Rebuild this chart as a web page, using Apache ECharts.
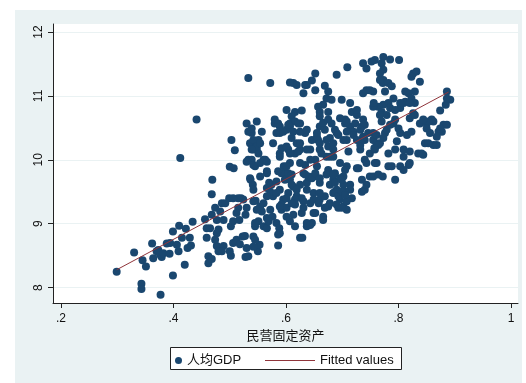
<!DOCTYPE html>
<html>
<head>
<meta charset="utf-8">
<script src="https://cdn.jsdelivr.net/npm/echarts@6/dist/echarts.min.js"></script>
<style>
  html, body { margin: 0; padding: 0; background: #ffffff; }
  #chart { width: 526px; height: 383px; }
</style>
</head>
<body>
<div id="chart"></div>
<script>
// Observations: [private fixed-asset share, log GDP per capita]
const observations = [
  [0.299,8.25],[0.330,8.55],[0.343,8.06],[0.343,7.98],[0.377,7.89],[0.345,8.43],[0.351,8.33],[0.362,8.69],
  [0.364,8.46],[0.370,8.57],[0.376,8.52],[0.379,8.48],[0.373,8.59],[0.382,8.54],[0.393,8.53],[0.394,8.70],
  [0.399,8.88],[0.406,8.67],[0.409,8.57],[0.410,8.97],[0.415,8.78],[0.422,8.92],[0.420,8.36],[0.399,8.19],
  [0.425,8.62],[0.429,8.78],[0.431,8.66],[0.434,9.03],[0.456,9.07],[0.459,8.78],[0.469,9.69],[0.468,9.46],
  [0.474,9.25],[0.468,9.14],[0.465,8.93],[0.462,8.49],[0.462,8.38],[0.468,8.45],[0.477,9.06],[0.477,8.85],
  [0.477,8.65],[0.480,8.57],[0.474,8.75],[0.502,8.50],[0.528,8.48],[0.550,8.57],[0.500,8.57],[0.412,10.03],
  [0.441,10.63],[0.388,8.69],[0.459,8.93],[0.486,9.32],[0.483,9.19],[0.480,8.91],[0.489,8.65],[0.489,9.06],
  [0.492,9.32],[0.499,9.40],[0.502,8.96],[0.506,8.70],[0.503,10.31],[0.509,10.15],[0.500,9.89],[0.507,9.87],
  [0.515,9.25],[0.517,9.06],[0.512,9.17],[0.520,9.40],[0.524,9.38],[0.512,8.75],[0.518,8.68],[0.523,8.80],
  [0.527,8.81],[0.533,8.49],[0.528,9.14],[0.530,9.25],[0.539,10.42],[0.543,10.26],[0.551,10.31],[0.533,10.00],
  [0.537,9.69],[0.541,9.61],[0.548,10.16],[0.545,9.90],[0.554,9.95],[0.542,9.53],[0.546,9.36],[0.554,9.27],
  [0.551,9.04],[0.557,9.19],[0.560,8.96],[0.545,8.96],[0.553,8.67],[0.566,9.09],[0.563,10.00],[0.566,9.79],
  [0.570,9.64],[0.577,10.26],[0.577,9.43],[0.572,9.22],[0.576,9.11],[0.583,9.01],[0.586,8.83],[0.586,8.66],
  [0.588,8.93],[0.589,10.10],[0.589,9.53],[0.595,9.38],[0.592,9.22],[0.601,9.11],[0.598,9.79],[0.607,9.95],
  [0.607,9.69],[0.604,9.48],[0.613,9.58],[0.619,9.43],[0.616,9.30],[0.613,9.14],[0.607,9.04],[0.616,8.96],
  [0.625,8.78],[0.629,8.78],[0.637,8.96],[0.646,9.01],[0.625,10.16],[0.619,10.26],[0.625,9.95],[0.631,9.79],
  [0.637,9.53],[0.628,9.40],[0.643,9.32],[0.649,9.17],[0.649,9.48],[0.660,9.38],[0.669,9.43],[0.666,9.11],
  [0.675,9.27],[0.649,9.74],[0.660,9.64],[0.655,9.90],[0.643,10.16],[0.657,10.31],[0.672,10.05],[0.675,9.84],
  [0.684,9.69],[0.690,9.53],[0.684,9.48],[0.696,9.38],[0.702,9.27],[0.708,9.22],[0.696,9.95],[0.708,9.90],
  [0.702,9.74],[0.714,9.61],[0.717,9.40],[0.726,9.87],[0.735,9.69],[0.740,9.53],[0.743,9.61],[0.749,9.74],
  [0.755,9.74],[0.732,10.16],[0.740,10.00],[0.761,9.95],[0.755,10.31],[0.761,10.26],[0.737,10.36],[0.486,8.57],
  [0.542,8.80],[0.545,8.75],[0.515,9.40],[0.542,9.35],[0.545,9.01],[0.548,9.22],[0.560,9.32],[0.566,8.93],
  [0.569,9.04],[0.589,8.85],[0.592,9.30],[0.601,9.25],[0.572,9.50],[0.574,9.61],[0.566,9.56],[0.583,9.66],
  [0.592,9.79],[0.586,9.82],[0.598,9.69],[0.610,9.61],[0.601,9.40],[0.616,9.38],[0.610,9.32],[0.631,9.35],
  [0.628,9.17],[0.631,9.25],[0.637,9.01],[0.643,8.98],[0.649,9.38],[0.658,9.32],[0.652,9.17],[0.666,9.06],
  [0.660,9.48],[0.678,9.32],[0.687,9.50],[0.693,9.43],[0.693,9.25],[0.637,9.64],[0.625,9.61],[0.619,9.53],
  [0.640,9.74],[0.646,9.71],[0.652,9.79],[0.660,9.71],[0.672,9.77],[0.678,9.61],[0.687,9.79],[0.506,9.40],
  [0.506,9.04],[0.530,8.62],[0.542,8.64],[0.530,10.57],[0.533,10.44],[0.548,10.60],[0.536,10.26],[0.548,10.26],
  [0.542,10.16],[0.551,10.10],[0.539,10.00],[0.530,9.97],[0.557,10.44],[0.560,10.00],[0.583,10.42],[0.580,10.57],
  [0.566,9.43],[0.583,9.48],[0.589,9.27],[0.607,10.57],[0.601,10.47],[0.610,10.34],[0.604,10.16],[0.616,10.10],
  [0.625,10.26],[0.634,10.42],[0.625,10.57],[0.596,9.90],[0.622,10.13],[0.604,9.79],[0.634,9.77],[0.646,10.31],
  [0.655,10.36],[0.660,10.16],[0.652,10.00],[0.669,10.47],[0.675,10.21],[0.684,10.26],[0.690,10.42],[0.681,10.57],
  [0.705,10.57],[0.714,10.52],[0.708,10.31],[0.720,10.44],[0.735,10.52],[0.732,10.23],[0.740,10.31],[0.746,10.42],
  [0.749,10.10],[0.758,10.16],[0.767,10.26],[0.776,10.42],[0.791,10.57],[0.782,10.10],[0.794,10.16],[0.797,10.29],
  [0.803,10.42],[0.815,10.39],[0.823,10.44],[0.809,10.05],[0.820,9.95],[0.835,10.10],[0.847,10.26],[0.862,10.23],
  [0.838,10.57],[0.850,10.57],[0.862,10.60],[0.880,10.55],[0.871,10.44],[0.844,10.08],[0.684,10.05],[0.705,9.84],
  [0.684,9.77],[0.696,9.71],[0.687,9.64],[0.702,9.61],[0.714,9.53],[0.705,9.50],[0.708,9.35],[0.690,9.30],
  [0.669,9.25],[0.729,9.87],[0.735,9.50],[0.743,9.95],[0.764,9.77],[0.758,9.95],[0.782,9.90],[0.794,9.69],
  [0.803,9.90],[0.818,9.92],[0.699,9.69],[0.699,9.50],[0.705,9.45],[0.699,9.25],[0.772,9.74],[0.809,9.84],
  [0.773,11.61],[0.785,11.57],[0.801,11.56],[0.758,11.56],[0.770,11.51],[0.737,11.51],[0.743,11.43],[0.709,11.45],
  [0.773,11.41],[0.767,11.35],[0.773,11.25],[0.772,11.20],[0.782,11.20],[0.788,11.15],[0.776,11.07],[0.737,11.04],
  [0.743,11.09],[0.755,11.07],[0.826,11.35],[0.832,11.38],[0.823,11.30],[0.838,11.22],[0.829,11.07],[0.818,11.04],
  [0.823,10.96],[0.812,10.91],[0.809,10.89],[0.803,10.81],[0.826,10.73],[0.829,10.89],[0.791,10.96],[0.782,10.89],
  [0.773,10.86],[0.764,10.83],[0.785,10.81],[0.794,10.78],[0.770,10.75],[0.779,10.70],[0.755,10.83],[0.886,11.07],
  [0.892,10.94],[0.884,10.86],[0.874,10.77],[0.859,10.63],[0.853,10.60],[0.844,10.63],[0.850,10.49],[0.856,10.42],
  [0.868,10.36],[0.877,10.44],[0.886,10.55],[0.853,10.26],[0.868,10.23],[0.841,10.10],[0.809,10.16],[0.788,9.90],
  [0.711,10.13],[0.702,10.31],[0.705,10.63],[0.699,10.94],[0.714,10.89],[0.717,10.75],[0.726,10.70],[0.723,10.57],
  [0.737,10.63],[0.740,10.55],[0.732,10.47],[0.737,10.34],[0.755,10.42],[0.761,10.39],[0.767,10.70],[0.770,10.60],
  [0.779,10.47],[0.785,10.55],[0.794,10.63],[0.800,10.49],[0.773,10.34],[0.764,10.23],[0.757,10.18],[0.720,10.39],
  [0.726,10.31],[0.756,10.89],[0.533,11.28],[0.572,11.20],[0.613,11.20],[0.619,11.17],[0.637,11.17],[0.646,11.24],
  [0.652,11.35],[0.631,11.04],[0.652,11.09],[0.669,11.16],[0.675,11.07],[0.672,10.96],[0.681,10.94],[0.666,10.86],
  [0.660,10.75],[0.690,11.33],[0.675,10.75],[0.601,10.78],[0.616,10.75],[0.628,10.77],[0.610,10.68],[0.616,10.60],
  [0.607,10.52],[0.622,10.57],[0.613,10.44],[0.625,10.44],[0.637,10.47],[0.660,10.68],[0.660,10.52],[0.655,10.42],
  [0.678,10.34],[0.687,10.47],[0.539,10.49],[0.580,10.63],[0.586,10.57],[0.542,10.31],[0.548,10.21],[0.539,10.16],
  [0.554,10.26],[0.589,10.42],[0.595,10.44],[0.592,10.18],[0.601,10.21],[0.607,10.10],[0.589,10.05],[0.542,9.92],
  [0.566,9.97],[0.566,9.82],[0.554,9.74],[0.536,9.71],[0.637,10.16],[0.643,10.00],[0.660,10.26],[0.663,10.10],
  [0.678,10.05],[0.684,10.16],[0.601,9.90],[0.634,9.92],[0.610,9.77],[0.752,11.54],[0.607,11.21],[0.634,11.17],
  [0.749,11.09],[0.767,11.25],[0.812,11.07],[0.886,10.96],[0.726,10.78],[0.657,10.83],[0.803,10.89],[0.820,10.89],
  [0.874,10.49],[0.820,10.65],[0.820,10.13],[0.829,10.70],[0.666,10.58],[0.675,10.63],[0.696,10.65],[0.708,10.60],
  [0.693,10.39],[0.708,10.44],[0.672,10.31],[0.589,10.52],[0.604,10.55]
];

// Linear fit, evaluated at the smallest and largest share
const fittedX = [0.299, 0.889];
const fittedY = [8.28, 11.06];

const xTicks = [0.2, 0.4, 0.6, 0.8, 1];
const yTicks = [8, 9, 10, 11, 12];
const xTitle = '民营固定资产';
const scatterName = '人均GDP';
const fitName = 'Fitted values';

const FONT = '"Liberation Sans", Arial, "Noto Sans CJK SC", sans-serif';
const NAVY = '#1a476f';
const MAROON = '#90353b';
const PANEL = '#eaf2f3';
const INK = '#111111';

const chart = echarts.init(document.getElementById('chart'), null, { renderer: 'canvas' });

chart.setOption({
  animation: false,
  backgroundColor: '#ffffff',
  textStyle: { fontFamily: FONT },
  graphic: [
    {
      type: 'rect', z: -10, silent: true,
      shape: { x: 15, y: 10, width: 507, height: 373 },
      style: { fill: PANEL }
    },
    {
      type: 'rect', z: 50, silent: true,
      shape: { x: 170.5, y: 347.5, width: 231, height: 22 },
      style: { fill: '#ffffff', stroke: '#222222', lineWidth: 1 }
    }
  ],
  grid: {
    left: 53, right: 8, top: 24, bottom: 80,
    show: true, backgroundColor: '#ffffff', borderWidth: 0
  },
  legend: [
    {
      data: [scatterName], left: 175, top: 354, padding: 0, z: 60,
      itemWidth: 7, itemHeight: 7, icon: 'circle',
      textStyle: { fontSize: 13, color: INK, fontFamily: FONT }
    },
    {
      data: [{ name: fitName, icon: 'rect' }], left: 265, top: 354, padding: 0, z: 60,
      itemWidth: 50, itemHeight: 1,
      textStyle: { fontSize: 13, color: INK, fontFamily: FONT }
    }
  ],
  xAxis: {
    type: 'value', min: 0.1858, max: 1.0124,
    name: xTitle, nameLocation: 'middle', nameGap: 19,
    nameTextStyle: { fontSize: 13, color: INK, fontFamily: FONT },
    axisLine: { show: true, onZero: false, lineStyle: { color: '#222222', width: 1 } },
    axisTick: { show: true, length: 5, customValues: xTicks, lineStyle: { color: '#222222' } },
    axisLabel: {
      customValues: xTicks, margin: 10, fontSize: 12, color: INK, fontFamily: FONT,
      formatter: v => (v === 1 ? '1' : String(v).replace(/^0/, ''))
    },
    splitLine: { show: false }
  },
  yAxis: {
    type: 'value', min: 7.76, max: 12.125,
    axisLine: { show: true, onZero: false, lineStyle: { color: '#222222', width: 1 } },
    axisTick: { show: true, length: 5, customValues: yTicks, lineStyle: { color: '#222222' } },
    axisLabel: {
      customValues: yTicks, rotate: 90, margin: 8, fontSize: 12, color: INK, fontFamily: FONT
    },
    splitLine: { show: true, lineStyle: { color: PANEL, width: 1 } }
  },
  series: [
    {
      name: scatterName,
      type: 'scatter',
      data: observations,
      symbol: 'circle',
      symbolSize: 8,
      itemStyle: { color: NAVY, opacity: 1 },
      z: 3
    },
    {
      name: fitName,
      type: 'line',
      data: fittedX.map((x, i) => [x, fittedY[i]]),
      symbol: 'none',
      showSymbol: false,
      lineStyle: { color: MAROON, width: 1 },
      itemStyle: { color: MAROON },
      z: 4
    }
  ]
});
</script>
</body>
</html>
